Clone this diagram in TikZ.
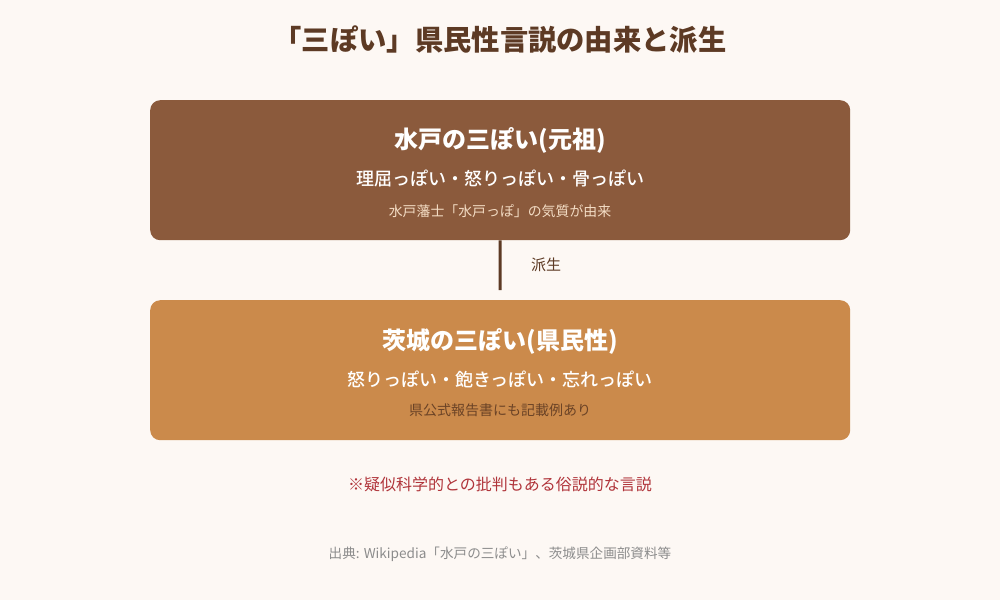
\documentclass[tikz,border=0pt]{standalone}
\usepackage{fontspec}
\setmainfont{Noto Sans CJK JP}
\newfontfamily\cjkmed{Noto Sans CJK JP Medium}
\definecolor{bg}{HTML}{FDF8F4}
\definecolor{topbox}{HTML}{8B5A3C}
\definecolor{botbox}{HTML}{CB8A4B}
\definecolor{titlec}{HTML}{5D3A24}
\definecolor{lightt}{HTML}{F3DCC4}
\definecolor{darkt}{HTML}{6B4326}
\definecolor{redt}{HTML}{B0343A}
\definecolor{grayt}{HTML}{8C8C8C}
\begin{document}
\begin{tikzpicture}[x=1pt,y=-1pt,
  box/.style={draw=none,rounded corners=10pt,minimum width=700pt,minimum height=140pt,anchor=north west},
  txt/.style={inner sep=0pt,anchor=center}]
\fill[bg] (0,0) rectangle (1000,600);
\useasboundingbox (0,0) rectangle (1000,600);
\node[txt,text=titlec,font=\fontsize{28.3}{32}\selectfont\bfseries] (title) at (500,40) {「三ぽい」県民性言説の由来と派生};
\node[box,fill=topbox] (top) at (150,100) {};
\node[box,fill=botbox] (bot) at (150,300) {};
\node[txt,text=white,font=\fontsize{24}{28}\selectfont\bfseries] (t1) at (500,140) {水戸の三ぽい(元祖)};
\node[txt,text=white,font=\fontsize{18}{21}\selectfont\cjkmed] (t2) at (500,178) {理屈っぽい・怒りっぽい・骨っぽい};
\node[txt,text=lightt,font=\fontsize{13.9}{16}\selectfont] (t3) at (500,211) {水戸藩士「水戸っぽ」の気質が由来};
\node[txt,text=white,font=\fontsize{24}{28}\selectfont\bfseries] (b1) at (500,341) {茨城の三ぽい(県民性)};
\node[txt,text=white,font=\fontsize{18}{21}\selectfont\cjkmed] (b2) at (500,379) {怒りっぽい・飽きっぽい・忘れっぽい};
\node[txt,text=darkt,font=\fontsize{14}{16}\selectfont] (b3) at (500,410) {県公式報告書にも記載例あり};
\coordinate (cend) at (500,290);
\draw[titlec,line width=3pt] (top.south) -- (cend);
\node[txt,text=titlec,font=\fontsize{15}{17}\selectfont] (lbl) at (546,265) {派生};
\node[txt,text=redt,font=\fontsize{16}{19}\selectfont] (note) at (500,484) {※疑似科学的との批判もある俗説的な言説};
\node[txt,text=grayt,font=\fontsize{13.6}{16}\selectfont] (src) at (500,554) {出典: Wikipedia「水戸の三ぽい」、茨城県企画部資料等};
\end{tikzpicture}
\end{document}
